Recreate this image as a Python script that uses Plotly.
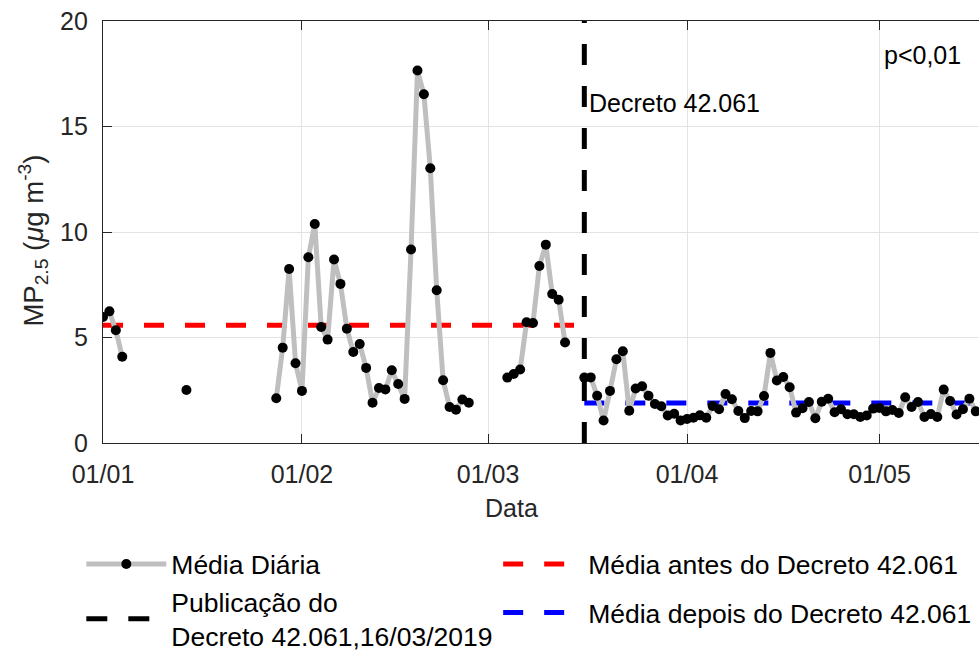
import pandas as pd
import plotly.graph_objects as go

# ---------------- data ----------------
start_date = "2020-01-01"
daily_values = [
    5.97, 6.24, 5.34, 4.09, None, None, None, None, None, None,
    None, None, None, 2.51, None, None, None, None, None, None,
    None, None, None, None, None, None, None, 2.12, 4.52, 8.25,
    3.78, 2.47, 8.80, 10.38, 5.50, 4.90, 8.70, 7.54, 5.42, 4.31,
    4.69, 3.56, 1.91, 2.61, 2.54, 3.45, 2.80, 2.09, 9.17, 17.65,
    16.53, 13.02, 7.24, 2.97, 1.71, 1.58, 2.06, 1.91, None, None,
    None, None, None, 3.10, 3.27, 3.48, 5.72, 5.69, 8.39, 9.40,
    7.06, 6.79, 4.76, None, None, 3.10, 3.11, 2.24, 1.07, 2.47,
    3.97, 4.35, 1.53, 2.58, 2.69, 2.24, 1.85, 1.74, 1.30, 1.39,
    1.07, 1.14, 1.20, 1.31, 1.20, 1.75, 1.60, 2.32, 2.07, 1.52,
    1.18, 1.52, 1.50, 2.23, 4.27, 2.96, 3.13, 2.64, 1.44, 1.65,
    1.94, 1.17, 1.96, 2.10, 1.46, 1.60, 1.36, 1.36, 1.23, 1.30,
    1.63, 1.66, 1.50, 1.56, 1.42, 2.17, 1.71, 1.94, 1.23, 1.37,
    1.23, 2.53, 1.99, 1.35, 1.60, 2.10, 1.50,
]
decree_date = "2020-03-16"
axis_end = "2020-05-16 12:00"
mean_before = 5.58
mean_after = 1.90
tick_dates = ["2020-01-01", "2020-02-01", "2020-03-01", "2020-04-01", "2020-05-01"]
tick_labels = ["01/01", "01/02", "01/03", "01/04", "01/05"]
y_ticks = [0, 5, 10, 15, 20]

dates = pd.date_range(start_date, periods=len(daily_values), freq="D")

FONT = "Liberation Sans, Arial, sans-serif"
AX = "#262626"
FS = 25
LFS = 26.5

W, H = 979, 650
L, T, B = 102.7, 20.7, 207.3
pw, ph = W - L, H - T - B
y0px = H - B  # pixel row of y=0


def px_x(p):
    return (p - L) / pw


def px_y(p):
    return (y0px - p) / ph


fig = go.Figure()

fig.add_trace(go.Scatter(
    x=[start_date, decree_date], y=[mean_before, mean_before], mode="lines",
    line=dict(color="#FF0000", width=5, dash="20px,21px"),
    name="Média antes do Decreto 42.061", legend="legend2", legendrank=1,
    legendgroup="a",
))
fig.add_trace(go.Scatter(
    x=[decree_date, axis_end], y=[mean_after, mean_after], mode="lines",
    line=dict(color="#0000FF", width=5, dash="20px,21px"),
    name="Média depois do Decreto 42.061", legend="legend2", legendrank=2,
    legendgroup="b",
))
fig.add_trace(go.Scatter(
    x=[decree_date, decree_date], y=[0, 20], mode="lines",
    line=dict(color="#000000", width=5, dash="21px,21px"),
    name="Publicação do<br>Decreto 42.061,16/03/2019", legend="legend", legendrank=2,
    legendgroup="d",
))
fig.add_trace(go.Scatter(
    x=dates, y=daily_values, mode="lines+markers", connectgaps=False,
    line=dict(color="#BFBFBF", width=5),
    marker=dict(color="#000000", size=10),
    name="Média Diária", legend="legend", legendrank=1,
    legendgroup="c",
))

fig.add_annotation(x=decree_date, y=16.1, xref="x", yref="y", text="Decreto 42.061",
                   showarrow=False, xanchor="left", yanchor="middle", xshift=3,
                   font=dict(family=FONT, size=FS, color="#000000"))
fig.add_annotation(x="2020-05-01", y=18.4, xref="x", yref="y", text="p<0,01",
                   showarrow=False, xanchor="left", yanchor="middle", xshift=2,
                   font=dict(family=FONT, size=FS, color="#000000"))
fig.add_annotation(x=px_x(511), y=px_y(508), xref="paper", yref="paper", text="Data",
                   showarrow=False, xanchor="center", yanchor="middle",
                   font=dict(family=FONT, size=FS, color=AX))
fig.add_annotation(
    x=px_x(33), y=px_y(240), xref="paper", yref="paper", textangle=-90,
    text="MP<sub>2.5</sub> (<i>μ</i>g m<sup>-3</sup>)",
    showarrow=False, xanchor="center", yanchor="middle",
    font=dict(family=FONT, size=27.5, color=AX))

fig.update_layout(
    width=W, height=H,
    margin=dict(l=L, r=0, t=T, b=B, autoexpand=False),
    plot_bgcolor="white", paper_bgcolor="white",
    font=dict(family=FONT, size=FS, color=AX),
    showlegend=True,
    legend=dict(x=px_x(81), y=px_y(540), xanchor="left", yanchor="top",
                orientation="v", itemwidth=80, tracegroupgap=0,
                font=dict(family=FONT, size=LFS, color="#000000"),
                bgcolor="rgba(0,0,0,0)", valign="middle"),
    legend2=dict(x=px_x(498), y=px_y(540), xanchor="left", yanchor="top",
                 orientation="v", itemwidth=80, tracegroupgap=11,
                 font=dict(family=FONT, size=LFS, color="#000000"),
                 bgcolor="rgba(0,0,0,0)"),
)

fig.update_xaxes(
    type="date", range=[start_date, axis_end],
    tickvals=tick_dates, ticktext=tick_labels,
    showgrid=True, gridcolor="#E3E3E3", gridwidth=1,
    showline=True, linecolor=AX, linewidth=1.3, mirror="ticks",
    ticks="inside", ticklen=9, tickcolor=AX, tickwidth=1.3,
    ticklabelstandoff=9,
    tickfont=dict(family=FONT, size=FS, color=AX), zeroline=False,
)
fig.update_yaxes(
    range=[0, 20], tickvals=y_ticks,
    showgrid=True, gridcolor="#E3E3E3", gridwidth=1,
    showline=True, linecolor=AX, linewidth=1.3,
    ticks="inside", ticklen=9, tickcolor=AX, tickwidth=1.3,
    ticklabelstandoff=9,
    tickfont=dict(family=FONT, size=FS, color=AX), zeroline=False,
)

fig.write_html("out.html", config={"displayModeBar": False},
               post_script="document.body.style.margin='0';document.body.style.overflow='hidden';")
